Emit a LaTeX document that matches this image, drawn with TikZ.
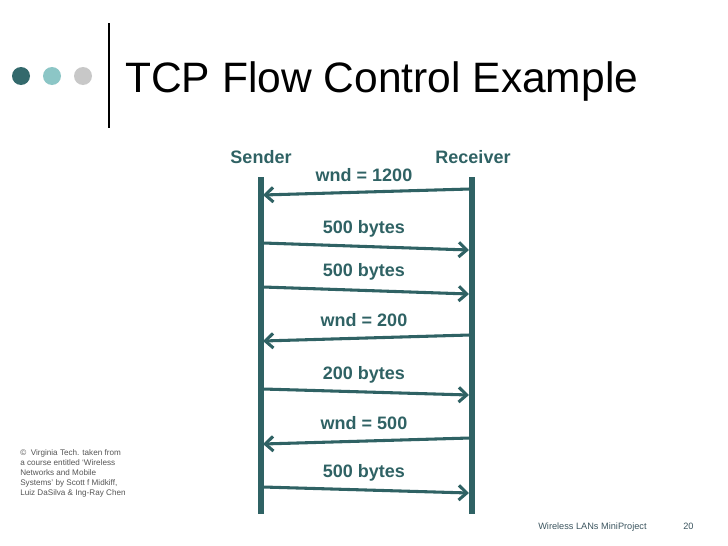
\documentclass[tikz,border=0pt]{standalone}
\usepackage{fontspec}
\setmainfont{Liberation Sans}
\usetikzlibrary{arrows.meta, positioning}

\begin{document}
\begin{tikzpicture}[x=0.75pt, y=-0.75pt, >={Straight Barb[length=6pt, width=11pt]},
			lifeline/.style={slideteal, line width=3.8pt},
			msg/.style={->, slideteal, line width=2.3pt},
			msglabel/.style={font=\bfseries\fontsize{13.5}{15}\selectfont, text=slideteal, inner sep=0pt},
			dot/.style={circle, inner sep=0pt, minimum size=13.5pt, fill=#1},
			footnote/.style={font=\fontsize{6.9}{8}\selectfont, text=footgrey, inner sep=0pt}
			]
			
			% Define colors
			\definecolor{slideteal}{RGB}{47,98,100}
			\definecolor{dotdark}{RGB}{51,105,108}
			\definecolor{dotlight}{RGB}{140,198,198}
			\definecolor{dotgrey}{RGB}{200,200,200}
			\definecolor{creditgrey}{RGB}{85,85,85}
			\definecolor{footgrey}{RGB}{60,85,95}
			
			\useasboundingbox (0,0) rectangle (728,546);
			
			% 1. Slide header
			\node[dot=dotdark] (dot1) at (21,76) {};
			\node[dot=dotlight] (dot2) at (52,76) {};
			\node[dot=dotgrey] (dot3) at (83,76) {};
			\draw[black, line width=2.2pt] (109,23) -- (109,128);
			\node[anchor=base west, inner sep=0pt, font=\fontsize{31.9}{36}\selectfont] (title) at (125,92) {TCP Flow Control Example};
			
			% 2. Sender and receiver with lifelines
			\node[msglabel] (sender) at (261,157) {Sender};
			\node[msglabel] (receiver) at (473,157) {Receiver};
			\coordinate (stop) at (261,177);
			\coordinate (sbot) at (261,514);
			\coordinate (rtop) at (472,177);
			\coordinate (rbot) at (472,514);
			\draw[lifeline] (stop) -- (sbot);
			\draw[lifeline] (rtop) -- (rbot);
			
			% 3. Messages (receiver end, sender end, label)
			\coordinate (r1) at (470,189); \coordinate (s1) at (263,195);
			\coordinate (s2) at (263,243); \coordinate (r2) at (469,250);
			\coordinate (s3) at (263,287); \coordinate (r3) at (469,294);
			\coordinate (r4) at (470,335); \coordinate (s4) at (263,341);
			\coordinate (s5) at (263,389); \coordinate (r5) at (469,395);
			\coordinate (r6) at (470,438); \coordinate (s6) at (263,444);
			\coordinate (s7) at (263,487); \coordinate (r7) at (469,493);
			
			\draw[msg] (r1) -- (s1);
			\node[msglabel] (wnd1) at (364,175) {wnd = 1200};
			\draw[msg] (s2) -- (r2);
			\node[msglabel] (data1) at (364,229) {500 bytes};
			\draw[msg] (s3) -- (r3);
			\node[msglabel] (data2) at (364,272) {500 bytes};
			\draw[msg] (r4) -- (s4);
			\node[msglabel] (wnd2) at (364,320) {wnd = 200};
			\draw[msg] (s5) -- (r5);
			\node[msglabel] (data3) at (364,375) {200 bytes};
			\draw[msg] (r6) -- (s6);
			\node[msglabel] (wnd3) at (364,423) {wnd = 500};
			\draw[msg] (s7) -- (r7);
			\node[msglabel] (data4) at (364,473) {500 bytes};
			
			% 4. Credit and footer
			\node[anchor=north west, align=left, inner sep=0pt, text=creditgrey,
			font=\fontsize{6.1}{7.6}\selectfont] (credit) at (20,449) {%
				\textcopyright{} \ Virginia Tech. taken from\\
				a course entitled `Wireless\\
				Networks and Mobile\\
				Systems' by Scott f Midkiff,\\
				Luiz DaSilva \& Ing-Ray Chen};
			\node[footnote, anchor=base west] (project) at (538,529) {Wireless LANs MiniProject};
			\node[footnote, anchor=base west] (page) at (683,529) {20};
			
		\end{tikzpicture}
\end{document}
